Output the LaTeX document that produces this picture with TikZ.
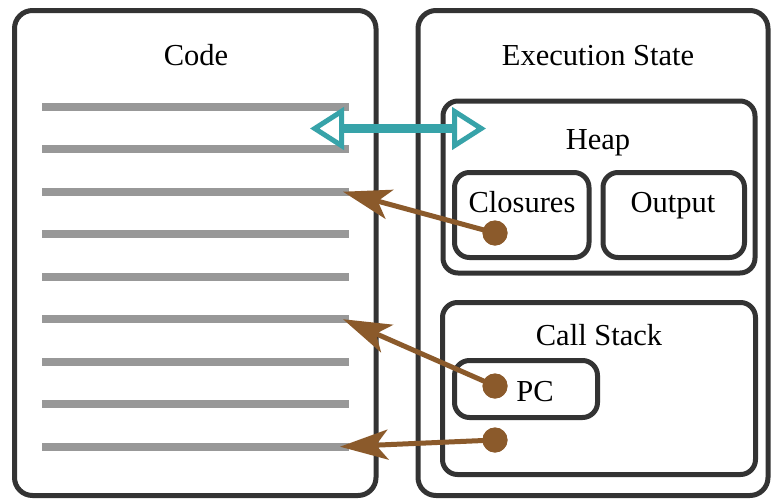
\documentclass[tikz,border=0pt]{standalone}
\usepackage{fontspec}
\setmainfont{Liberation Serif}
\usetikzlibrary{arrows.meta,positioning}
\definecolor{edgegray}{HTML}{333333}
\definecolor{codegray}{HTML}{989898}
\definecolor{linkteal}{HTML}{37A3A9}
\definecolor{ptrbrown}{HTML}{8B5A2B}

\begin{document}
\begin{tikzpicture}[x=1pt,y=-1pt,
  panel/.style={draw=edgegray,line width=5pt,rounded corners=18pt,inner sep=0pt},
  sub/.style={draw=edgegray,line width=5pt,rounded corners=15pt,inner sep=0pt},
  lbl/.style={font=\fontsize{30.5}{34}\selectfont,inner sep=0pt,anchor=base},
  codeline/.style={draw=codegray,line width=8pt},
  dot/.style={circle,fill=ptrbrown,minimum size=25pt,inner sep=0pt},
  ptr/.style={-{Stealth[length=48pt,width=30pt,inset=12pt]},draw=ptrbrown,line width=5pt},
  link/.style={{Triangle[fill=white,length=34pt,width=42pt,line width=5pt]}-{Triangle[fill=white,length=34pt,width=42pt,line width=5pt]},
               draw=linkteal,line width=9pt}
]
\useasboundingbox (0,0) rectangle (772,499);

% Panels
\node[panel,minimum width=361.5pt,minimum height=485pt] (code) at (195.25,253) {};
\node[panel,minimum width=350pt,minimum height=485pt] (state) at (593,253) {};
\node[lbl] (codetitle) at (196,65) {Code};
\node[lbl] (statetitle) at (598,65) {Execution State};

% Heap
\node[sub,minimum width=312pt,minimum height=172pt] (heap) at (599,187) {};
\node[lbl] (heaptitle) at (598,149) {Heap};
\node[sub,minimum width=134.5pt,minimum height=85pt] (clos) at (521.75,215) {};
\node[sub,minimum width=141.5pt,minimum height=85pt] (out) at (673.75,215) {};
\node[lbl] (clostitle) at (522,212) {Closures};
\node[lbl] (outtitle) at (673,212) {Output};

% Call stack
\node[sub,minimum width=313pt,minimum height=172pt] (stack) at (599,388.5) {};
\node[lbl] (stacktitle) at (599,345) {Call Stack};
\node[sub,minimum width=143pt,minimum height=57pt] (pc) at (526,389) {};
\node[lbl] (pctitle) at (535,401) {PC};

% Code lines
\foreach \i in {0,...,8}{
  \draw[codeline] (42,106.7+42.5*\i) -- (349,106.7+42.5*\i);
  \coordinate (l\i) at (343,106.7+42.5*\i);
}

% Code <-> state link
\coordinate (linkl) at (310,128.5);
\coordinate (linkr) at (486,128.5);
\draw[link] (linkl) -- (linkr);

% Pointers into the code
\node[dot] (d1) at (495,233) {};
\node[dot] (d2) at (495,386) {};
\node[dot] (d3) at (495,440) {};
\draw[ptr] (d1.center) -- (l2);
\draw[ptr] (d2.center) -- (l5);
\draw[ptr] (d3.center) -- ([xshift=-3pt]l8);
\node[dot] at (d1) {};
\node[dot] at (d2) {};
\node[dot] at (d3) {};

\end{tikzpicture}
\end{document}
